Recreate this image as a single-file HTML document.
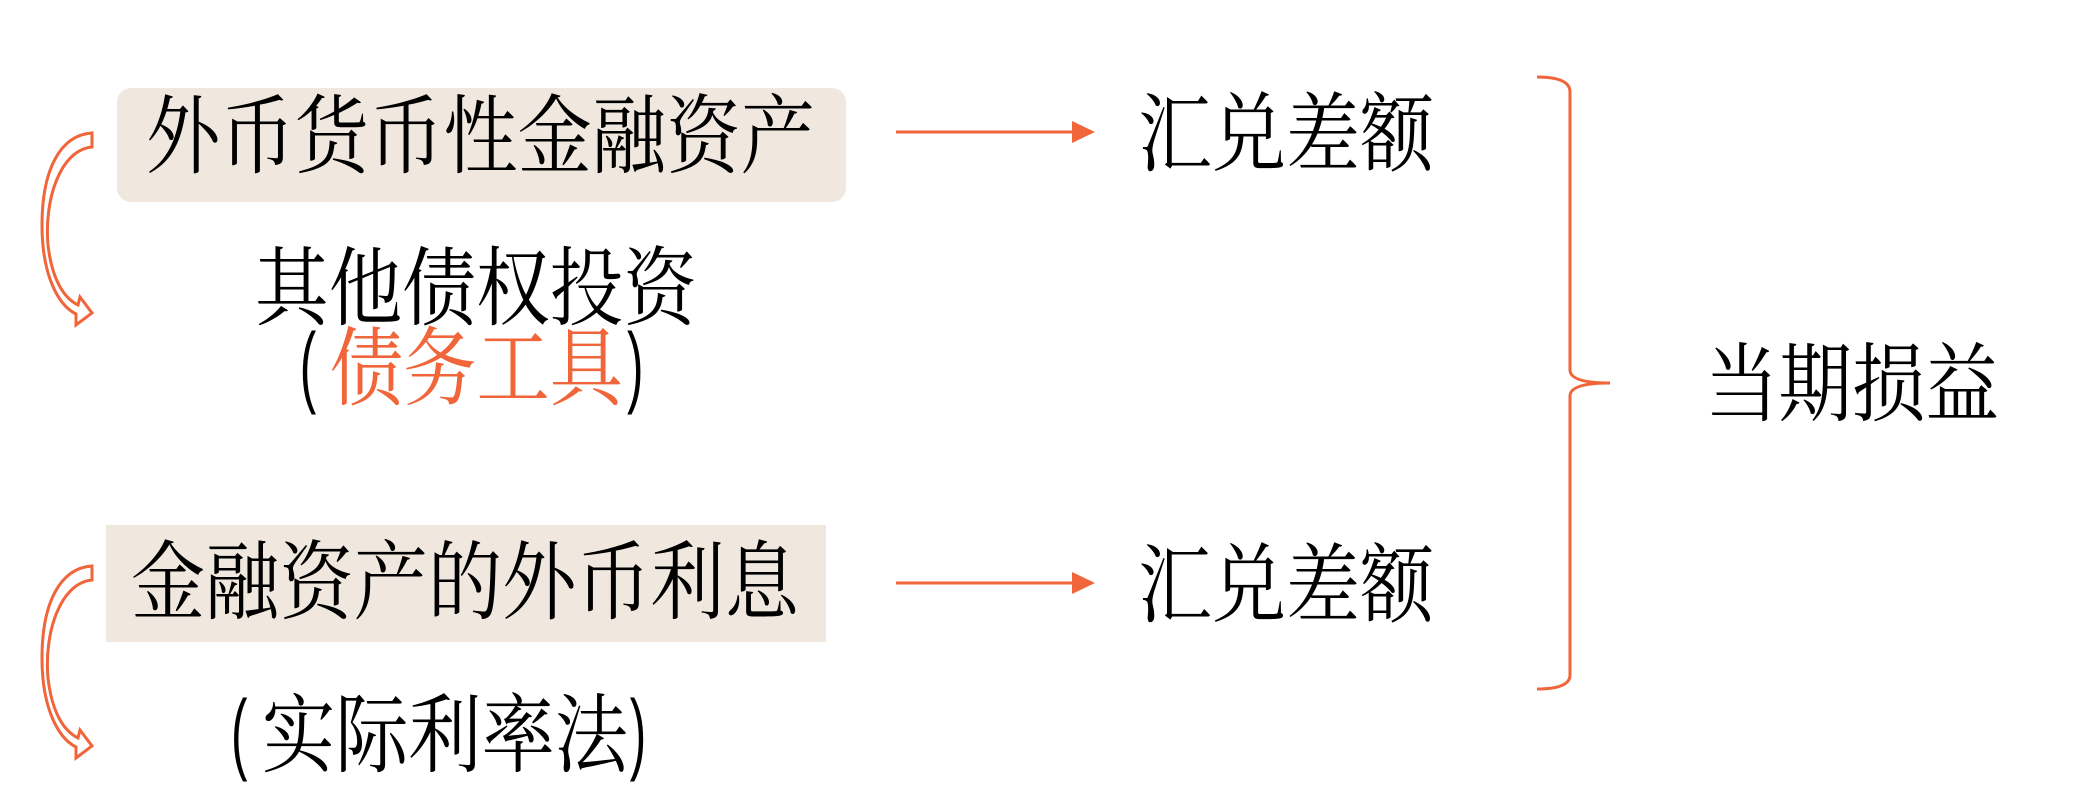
<!DOCTYPE html>
<html><head><meta charset="utf-8"><style>
html,body{margin:0;padding:0;background:#fff;}
svg text{font-family:"Liberation Serif","Noto Serif CJK SC","Noto Sans CJK SC",serif;fill:#000;}
svg text.p{font-family:"Liberation Sans",sans-serif;}
</style></head><body>
<svg width="2073" height="800" viewBox="0 0 2073 800" xmlns="http://www.w3.org/2000/svg">
<rect x="117" y="88" width="729" height="114" rx="14" fill="#f0e7de"/>
<rect x="106" y="525" width="720" height="117" fill="#f0e7de"/>
<g font-size="86">
<text x="146" y="166" textLength="669" lengthAdjust="spacingAndGlyphs">外币货币性金融资产</text>
<text x="255" y="318" textLength="442" lengthAdjust="spacingAndGlyphs">其他债权投资</text>
<text x="330" y="398" textLength="293" lengthAdjust="spacingAndGlyphs" style="fill:#f0653a">债务工具</text>
<text x="131" y="612" textLength="668" lengthAdjust="spacingAndGlyphs">金融资产的外币利息</text>
<text x="262" y="765" textLength="366" lengthAdjust="spacingAndGlyphs">实际利率法</text>
<text x="1138" y="164" textLength="296" lengthAdjust="spacingAndGlyphs">汇兑差额</text>
<text x="1138" y="615" textLength="296" lengthAdjust="spacingAndGlyphs">汇兑差额</text>
<text x="1705" y="414" textLength="294" lengthAdjust="spacingAndGlyphs">当期损益</text>
</g>
<g transform="scale(0.55,1)" font-size="90">
<text class="p" x="545" y="396">(</text>
<text class="p" x="1140" y="396">)</text>
<text class="p" x="420" y="763">(</text>
<text class="p" x="1145" y="763">)</text>
</g>
<g fill="#f0653a" stroke="#f0653a">
<line x1="896" y1="132" x2="1075" y2="132" stroke-width="3"/>
<polygon points="1072,121 1095,132 1072,143" stroke="none"/>
<line x1="896" y1="583" x2="1075" y2="583" stroke-width="3"/>
<polygon points="1072,572 1095,583 1072,594" stroke="none"/>
</g>
<path d="M1537,77 Q1570,77 1570,92 L1570,370 Q1570,383 1610,383 Q1570,383 1570,396 L1570,675 Q1570,689 1537,689" fill="none" stroke="#f0653a" stroke-width="3"/>
<g fill="none" stroke="#f0653a" stroke-width="3" stroke-linejoin="miter">
<path d="M92,133 L92,147 C60,150 44,200 48,245 C52,280 64,298 78,305 L80,297 L92,313 L76,325 L76,314 C58,305 42,275 42,225 C42,170 60,135 92,133 Z"/>
<path d="M92,566 L92,580 C60,583 44,633 48,678 C52,713 64,731 78,738 L80,730 L92,746 L76,758 L76,747 C58,738 42,708 42,658 C42,603 60,568 92,566 Z"/>
</g>
</svg>
</body></html>
